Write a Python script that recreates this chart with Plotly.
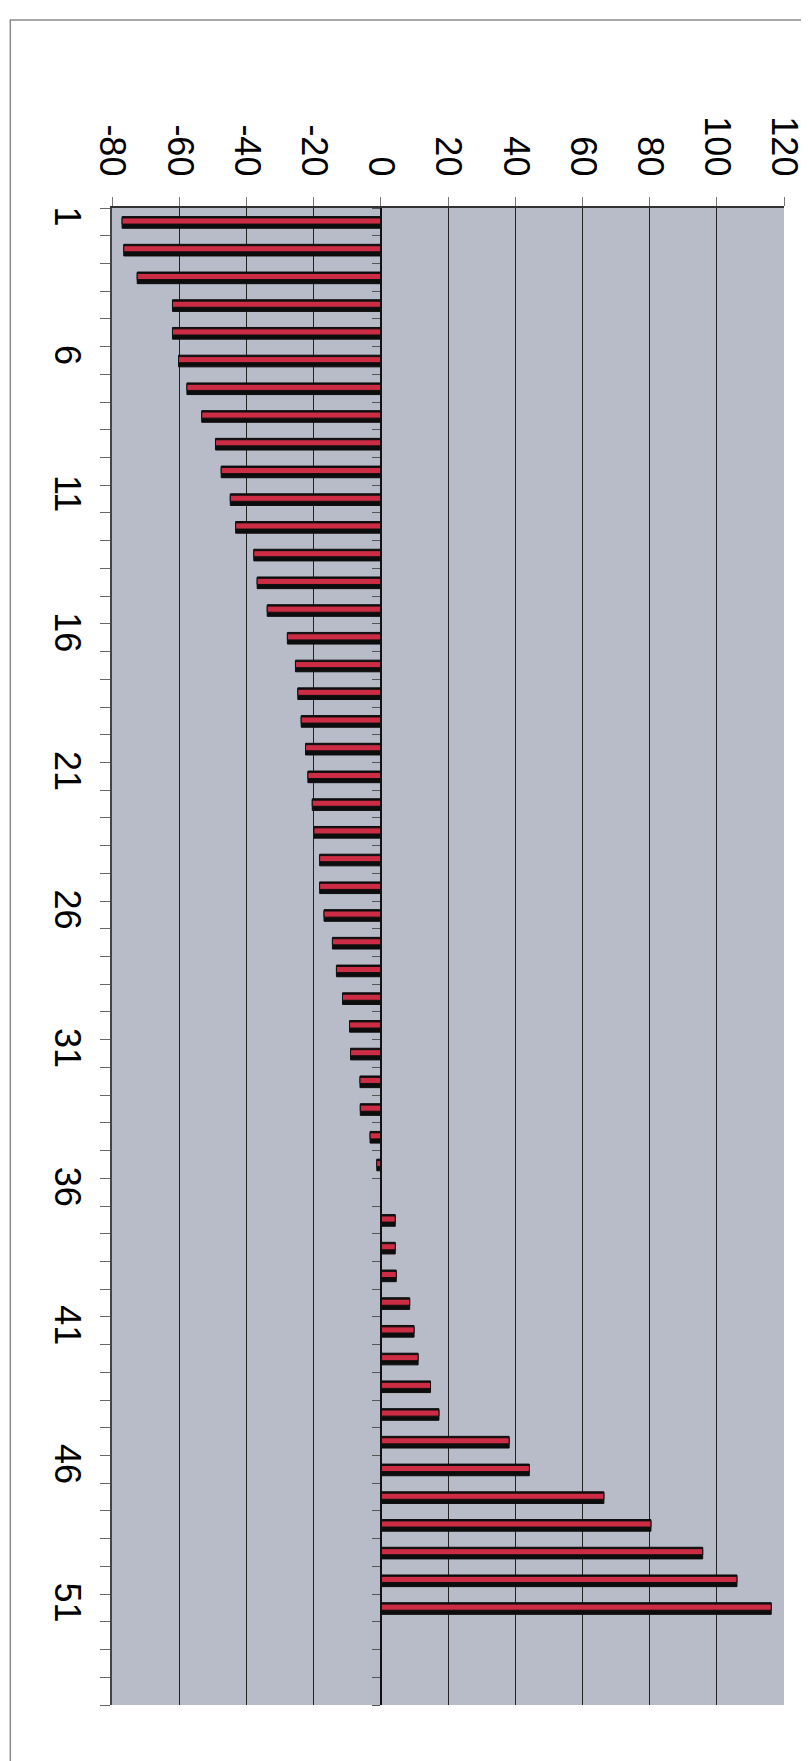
import plotly.graph_objects as go

# ---- data ----
categories = list(range(1, 52))
values = [
    -77.0, -76.5, -72.5, -62.0, -62.0, -60.2, -57.7, -53.3, -49.2, -47.5,
    -44.8, -43.2, -37.8, -36.8, -33.8, -27.8, -25.4, -24.7, -23.7, -22.4,
    -21.7, -20.4, -19.9, -18.2, -18.2, -16.9, -14.4, -13.2, -11.4, -9.3,
    -9.0, -6.2, -6.1, -3.2, -1.2, 0.0, 4.3, 4.3, 4.6, 8.6,
    9.9, 11.1, 14.8, 17.3, 38.2, 44.2, 66.4, 80.4, 95.8, 106.0,
    116.2,
]
value_ticks = [-80, -60, -40, -20, 0, 20, 40, 60, 80, 100, 120]
category_label_vals = [1, 6, 11, 16, 21, 26, 31, 36, 41, 46, 51]
n_slots = 54  # category axis holds 54 slots, last ones empty

x_min, x_max = -80, 120
boundaries = [i + 0.5 for i in range(0, n_slots + 1)]

FONT = "Arial, Liberation Sans, sans-serif"

fig = go.Figure()

# black shadow bars
fig.add_trace(go.Bar(
    y=categories, x=values, orientation="h",
    width=0.42, offset=-0.19,
    marker=dict(color="#0d0d0d", line=dict(color="#0d0d0d", width=1)),
    showlegend=False, hoverinfo="skip",
))
# red bars
fig.add_trace(go.Bar(
    y=categories, x=values, orientation="h",
    width=0.22, offset=-0.14,
    marker=dict(color="#cc2d44", line=dict(color="#111111", width=1)),
    showlegend=False,
))
# dummy trace for the zero (category) axis
fig.add_trace(go.Scatter(x=[None], y=[None], yaxis="y2",
                         showlegend=False, hoverinfo="skip"))

zero_pos = (0 - x_min) / (x_max - x_min)

W, H = 809, 1761
L, R, T, B = 104, 31, 200, 64
pw, ph = W - L - R, H - T - B

def px_x(X):
    return (X - L) / pw

def px_y(Y):
    return (H - B - Y) / ph

fig.update_layout(
    width=W, height=H,
    margin=dict(l=L, r=R, t=T, b=B, pad=0),
    paper_bgcolor="white",
    plot_bgcolor="#b7bcc8",
    barmode="overlay",
    font=dict(family=FONT, size=36, color="black"),
    xaxis=dict(
        side="top", range=[x_min, x_max],
        tickmode="array", tickvals=value_ticks,
        ticktext=[str(v) for v in value_ticks],
        tickangle=90,
        ticks="outside", ticklen=9, tickwidth=1, tickcolor="#777777",
        showgrid=True, gridcolor="#222222", gridwidth=1,
        zeroline=False,
        showline=True, linecolor="#333333", linewidth=2,
        tickfont=dict(family=FONT, size=36, color="black"),
        ticklabelstandoff=8,
    ),
    yaxis=dict(
        range=[n_slots + 0.5, 0.5],
        tickmode="array", tickvals=category_label_vals,
        ticktext=[str(v) for v in category_label_vals],
        tickangle=90,
        ticks="",
        minor=dict(tickmode="array", tickvals=boundaries, ticks="outside",
                   ticklen=10, tickwidth=1, tickcolor="#666666", showgrid=False),
        showgrid=False, zeroline=False,
        showline=True, linecolor="#444444", linewidth=2,
        tickfont=dict(family=FONT, size=36, color="black"),
        ticklabelstandoff=12,
    ),
    yaxis2=dict(
        overlaying="y", anchor="free", position=zero_pos, side="left",
        range=[n_slots + 0.5, 0.5],
        tickmode="array", tickvals=boundaries,
        ticks="outside", ticklen=8, tickwidth=1, tickcolor="#555555",
        showticklabels=False, showgrid=False, zeroline=False,
        showline=True, linecolor="#111111", linewidth=2,
    ),
    shapes=[
        dict(type="rect", xref="paper", yref="paper",
             x0=px_x(2), x1=px_x(807), y0=px_y(H + 20), y1=px_y(12),
             line=dict(color="#8a8a8a", width=1.5), layer="below"),
    ],
)

fig.write_html("out.html")
